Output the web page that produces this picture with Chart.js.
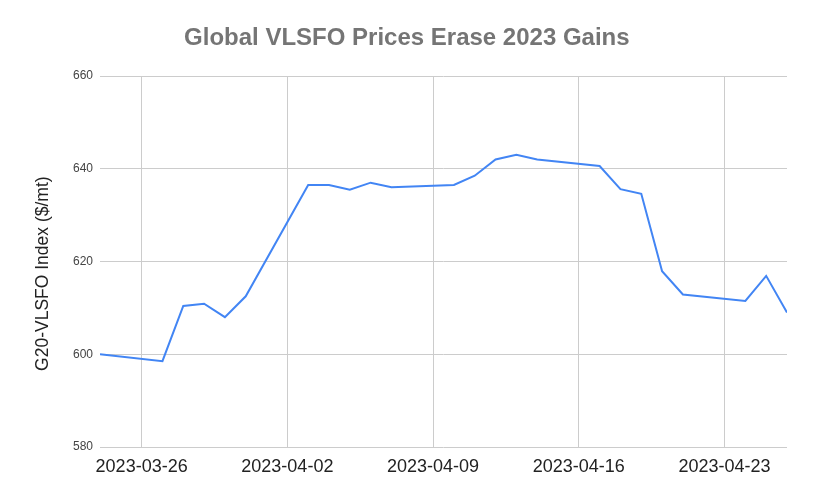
<!DOCTYPE html>
<html>
<head>
<meta charset="utf-8">
<script src="https://cdn.jsdelivr.net/npm/chart.js@4.4.0/dist/chart.umd.min.js"></script>
<style>
  html, body { margin: 0; padding: 0; background: #ffffff; }
  #wrap { width: 813px; height: 502px; }
</style>
</head>
<body>
<div id="wrap"><canvas id="c" width="813" height="502"></canvas></div>
<script>
const dates = ['2023-03-24','2023-03-27','2023-03-28','2023-03-29','2023-03-30','2023-03-31',
  '2023-04-03','2023-04-04','2023-04-05','2023-04-06','2023-04-07',
  '2023-04-10','2023-04-11','2023-04-12','2023-04-13','2023-04-14',
  '2023-04-17','2023-04-18','2023-04-19','2023-04-20','2023-04-21',
  '2023-04-24','2023-04-25','2023-04-26'];
const prices = [600, 598.5, 610.4, 610.9, 608, 612.5,
  636.5, 636.5, 635.5, 637, 636,
  636.5, 638.5, 642, 643, 642,
  640.6, 635.6, 634.6, 617.9, 612.9,
  611.5, 616.9, 609];
const tickLabels = ['2023-03-26','2023-04-02','2023-04-09','2023-04-16','2023-04-23'];
const yTicks = [580, 600, 620, 640, 660];

const dayMs = 86400000;
const t0 = Date.parse(dates[0] + 'T00:00:00Z');
const dayIndex = d => Math.round((Date.parse(d + 'T00:00:00Z') - t0) / dayMs);
const points = dates.map((d, i) => ({ x: dayIndex(d), y: prices[i] }));
const tickPos = tickLabels.map(dayIndex);

const FONT = '"Liberation Sans", Arial, Helvetica, sans-serif';

new Chart(document.getElementById('c'), {
  type: 'line',
  data: {
    datasets: [{
      data: points,
      borderColor: '#4285F4',
      borderWidth: 2,
      pointRadius: 0,
      pointHoverRadius: 0,
      tension: 0,
      fill: false
    }]
  },
  options: {
    responsive: false,
    animation: false,
    events: [],
    layout: { padding: { left: 0, right: 26, top: 0, bottom: 0 } },
    plugins: {
      legend: { display: false },
      tooltip: { enabled: false },
      title: {
        display: true,
        text: '    Global VLSFO Prices Erase 2023 Gains',
        color: '#757575',
        font: { family: FONT, size: 24, weight: 'bold' },
        padding: { top: 24, bottom: 23.2 }
      }
    },
    scales: {
      x: {
        type: 'linear',
        min: dayIndex(dates[0]),
        max: dayIndex(dates[dates.length - 1]),
        afterBuildTicks: s => { s.ticks = tickPos.map(v => ({ value: v })); },
        afterFit: s => { s.height = 55; },
        grid: { color: '#cccccc', lineWidth: 1, drawTicks: false },
        border: { display: false },
        ticks: {
          autoSkip: false,
          maxRotation: 0,
          padding: 9,
          color: '#222222',
          font: { family: FONT, size: 18 },
          callback: (v) => { const i = tickPos.indexOf(v); return i >= 0 ? tickLabels[i] : ''; }
        }
      },
      y: {
        min: yTicks[0],
        max: yTicks[yTicks.length - 1],
        afterBuildTicks: s => { s.ticks = yTicks.map(v => ({ value: v })); },
        afterFit: s => { s.width = 100; },
        grid: { color: '#cccccc', lineWidth: 1, drawTicks: false },
        border: { display: false },
        ticks: {
          padding: 7,
          color: '#444444',
          font: { family: FONT, size: 12 }
        },
        title: {
          display: true,
          text: 'G20-VLSFO Index ($/mt)' + '     ',
          color: '#222222',
          font: { family: FONT, size: 17.5 },
          padding: { top: 33, bottom: 0 }
        }
      }
    }
  }
});
</script>
</body>
</html>
